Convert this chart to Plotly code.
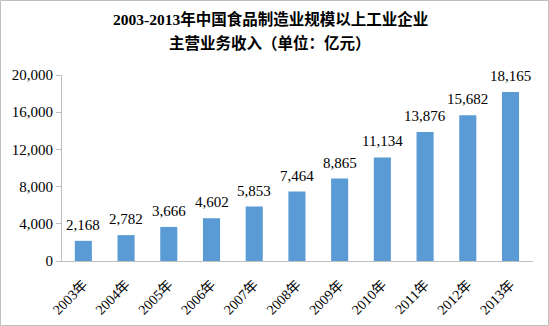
import plotly.graph_objects as go

years = ["2003年", "2004年", "2005年", "2006年", "2007年", "2008年", "2009年", "2010年", "2011年", "2012年", "2013年"]
revenue = [2168, 2782, 3666, 4602, 5853, 7464, 8865, 11134, 13876, 15682, 18165]
tick_vals = [0, 4000, 8000, 12000, 16000, 20000]
tick_text = ["0", "4,000", "8,000", "12,000", "16,000", "20,000"]
title_lines = ["2003-2013年中国食品制造业规模以上工业企业", "主营业务收入（单位：亿元）"]

W, H = 549, 326
ML, MR, MT, MB = 62, 16, 75, 65
PW, PH = W - ML - MR, H - MT - MB
FONT = "'Liberation Serif', 'Times New Roman', 'Noto Sans CJK SC', serif"

fig = go.Figure(go.Bar(
    x=years, y=revenue,
    marker=dict(color="#5B9BD5", line=dict(width=0)),
    cliponaxis=False,
))

annotations = []
for i, (line, ypx) in enumerate(zip(title_lines, [19, 43])):
    annotations.append(dict(
        text="<b>" + line + "</b>", showarrow=False,
        xref="paper", yref="paper",
        x=(270 - ML) / PW, xanchor="center",
        y=1 + (MT - ypx) / PH, yanchor="middle",
        font=dict(family=FONT, size=15.5, color="#000000"),
    ))
for yr, v in zip(years, revenue):
    annotations.append(dict(
        text=f"{v:,}", showarrow=False, x=yr, y=v, xref="x", yref="y",
        xanchor="center", yanchor="bottom", yshift=6,
        font=dict(family=FONT, size=15, color="#000000"),
    ))

fig.update_layout(
    width=W, height=H,
    margin=dict(l=ML, r=MR, t=MT, b=MB),
    paper_bgcolor="white", plot_bgcolor="white",
    showlegend=False,
    bargap=0.6,
    annotations=annotations,
    xaxis=dict(
        showline=True, linecolor="#BFBFBF", linewidth=1,
        ticks="outside", ticklen=9, tickcolor="rgba(0,0,0,0)", tickangle=-45,
        tickfont=dict(family=FONT, size=14, color="#000000"),
        showgrid=False, automargin=False,
    ),
    yaxis=dict(
        range=[0, 20000], tickvals=tick_vals, ticktext=tick_text,
        showline=True, linecolor="#BFBFBF", linewidth=1,
        ticks="outside", ticklen=5, tickcolor="#BFBFBF",
        tickfont=dict(family=FONT, size=15, color="#000000"),
        showgrid=False, zeroline=False, automargin=False,
    ),
    shapes=[dict(
        type="rect", xref="paper", yref="paper",
        x0=-(ML - 0.5) / PW, x1=1 + (MR - 0.5) / PW,
        y0=-(MB - 0.5) / PH, y1=1 + (MT - 0.5) / PH,
        line=dict(color="#BFBFBF", width=1),
    )],
)

fig.write_html("out.html")
